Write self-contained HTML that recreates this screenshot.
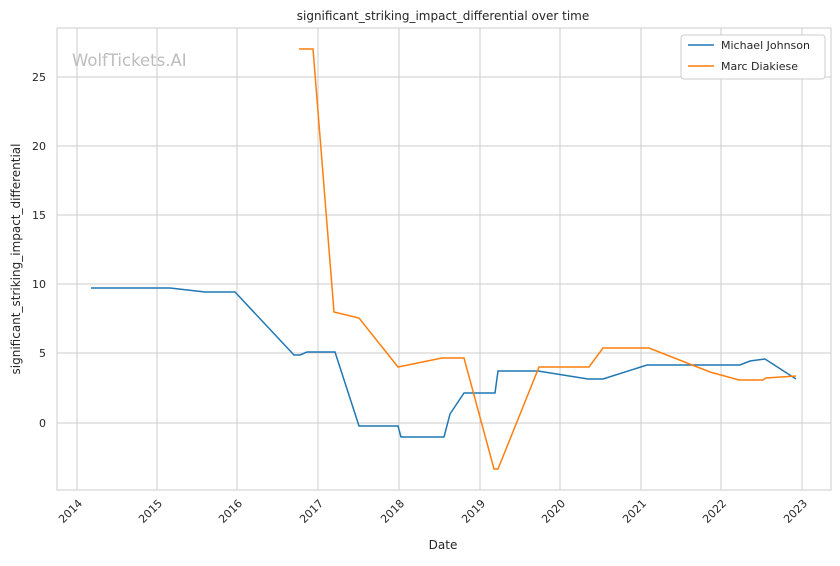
<!DOCTYPE html>
<html><head><meta charset="utf-8"><style>
html,body{margin:0;padding:0;background:#fff;}
text{font-family:"DejaVu Sans","Liberation Sans",sans-serif;fill:#262626;}
</style></head><body>
<svg width="840" height="561" viewBox="0 0 840 561" xmlns="http://www.w3.org/2000/svg">
<rect width="840" height="561" fill="#fff"/>
<g stroke="#cccccc" stroke-width="1">
<line x1="77" y1="28" x2="77" y2="490"/><line x1="157" y1="28" x2="157" y2="490"/>
<line x1="237" y1="28" x2="237" y2="490"/><line x1="318" y1="28" x2="318" y2="490"/>
<line x1="399" y1="28" x2="399" y2="490"/><line x1="480" y1="28" x2="480" y2="490"/>
<line x1="560" y1="28" x2="560" y2="490"/><line x1="641" y1="28" x2="641" y2="490"/>
<line x1="721" y1="28" x2="721" y2="490"/><line x1="802" y1="28" x2="802" y2="490"/>
<line x1="57" y1="77" x2="831" y2="77"/><line x1="57" y1="146" x2="831" y2="146"/>
<line x1="57" y1="215" x2="831" y2="215"/><line x1="57" y1="284" x2="831" y2="284"/>
<line x1="57" y1="353" x2="831" y2="353"/><line x1="57" y1="423" x2="831" y2="423"/>
</g>
<rect x="57" y="28" width="774" height="462" fill="none" stroke="#cccccc" stroke-width="1"/>
<text x="72" y="66" font-size="16.5" style="fill:#bdbdbd">WolfTickets.AI</text>
<polyline fill="none" stroke="#1f77b4" stroke-width="1.5" points="91,288 170,288 205,292 235,292 294,355 300,355 307,352 335,352 359,426 398,426 401,437 444,437 450,414 464,393 495,393 498,371 538,371 588,379 603,379 647,365 740,365 750,361 765,359 796,379"/>
<polyline fill="none" stroke="#ff7f0e" stroke-width="1.5" points="299,49 313,49 334,312 359,318 398,367 442,358 464,358 494,469 498,469 539,367 589,367 603,348 649,348 710,372 739,380 763,380 766,378 796,376"/>
<g font-size="11" text-anchor="end">
<text x="46" y="81">25</text><text x="46" y="150">20</text><text x="46" y="219">15</text>
<text x="46" y="288">10</text><text x="46" y="357">5</text><text x="46" y="427">0</text>
</g>
<g font-size="11" text-anchor="end">
<text transform="translate(83,504) rotate(-45)">2014</text>
<text transform="translate(163,504) rotate(-45)">2015</text>
<text transform="translate(243,504) rotate(-45)">2016</text>
<text transform="translate(324,504) rotate(-45)">2017</text>
<text transform="translate(405,504) rotate(-45)">2018</text>
<text transform="translate(486,504) rotate(-45)">2019</text>
<text transform="translate(566,504) rotate(-45)">2020</text>
<text transform="translate(647,504) rotate(-45)">2021</text>
<text transform="translate(727,504) rotate(-45)">2022</text>
<text transform="translate(808,504) rotate(-45)">2023</text>
</g>
<text x="443" y="549" font-size="12" text-anchor="middle">Date</text>
<text transform="translate(20,259) rotate(-90)" font-size="12" text-anchor="middle">significant_striking_impact_differential</text>
<text x="443" y="20" font-size="12" text-anchor="middle">significant_striking_impact_differential over time</text>
<rect x="681" y="35" width="144" height="44" rx="3" fill="#fff" stroke="#cccccc"/>
<line x1="688" y1="45" x2="714" y2="45" stroke="#1f77b4" stroke-width="1.5"/>
<line x1="688" y1="66" x2="714" y2="66" stroke="#ff7f0e" stroke-width="1.5"/>
<text x="721" y="49" font-size="11">Michael Johnson</text>
<text x="721" y="70" font-size="11">Marc Diakiese</text>
</svg>
</body></html>
